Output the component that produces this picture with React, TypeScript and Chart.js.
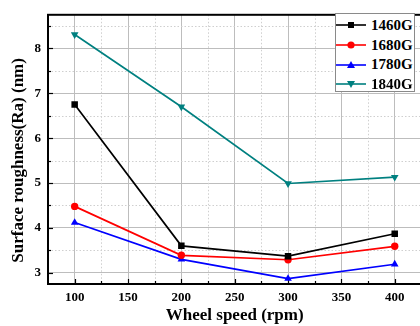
import React, { useEffect, useRef } from "react";
import { Chart, registerables } from "chart.js";

Chart.register(...registerables);

const wheelSpeeds = [100, 200, 300, 400];
const seriesNames = ["1460G", "1680G", "1780G", "1840G"];
const ra1460 = [6.75, 3.6, 3.37, 3.87];
const ra1680 = [4.48, 3.39, 3.29, 3.59];
const ra1780 = [4.12, 3.3, 2.87, 3.19];
const ra1840 = [8.31, 6.7, 4.99, 5.13];
const xTicks = [100, 150, 200, 250, 300, 350, 400];
const xMinorTicks = [125, 175, 225, 275, 325, 375];
const yTicks = [3, 4, 5, 6, 7, 8];
const yMinorTicks = [3.5, 4.5, 5.5, 6.5, 7.5, 8.5];
const yTitle = "Surface roughness(Ra) (nm)";
const xTitle = "Wheel speed (rpm)";

const colors = ["#000000", "#ff0000", "#0000ff", "#008080"];
const pointStyles: any[] = ["rect", "circle", "triangle", "triangle"];
const pointRotations = [0, 0, 0, 180];
const pointRadii = [4.6, 3.7, 4.4, 4.4];

const FONT = "'Liberation Serif', 'Times New Roman', serif";

const framePlugin = {
  id: "frameAndMinor",
  beforeDatasetsDraw(chart: any) {
    const { ctx, chartArea: a, scales } = chart;
    const xs = scales.x;
    const ys = scales.y;
    ctx.save();
    ctx.strokeStyle = "#cfcfcf";
    ctx.lineWidth = 1;
    ctx.setLineDash([1.5, 2]);
    for (const v of xMinorTicks) {
      const px = Math.round(xs.getPixelForValue(v)) + 0.5;
      ctx.beginPath();
      ctx.moveTo(px, a.top);
      ctx.lineTo(px, a.bottom);
      ctx.stroke();
    }
    for (const v of yMinorTicks) {
      const py = Math.round(ys.getPixelForValue(v)) + 0.5;
      ctx.beginPath();
      ctx.moveTo(a.left, py);
      ctx.lineTo(a.right, py);
      ctx.stroke();
    }
    ctx.setLineDash([]);
    ctx.strokeStyle = "#000";
    ctx.lineWidth = 1.2;
    const drawX = (v: number, len: number) => {
      const px = Math.round(xs.getPixelForValue(v)) + 0.5;
      ctx.beginPath();
      ctx.moveTo(px, a.bottom);
      ctx.lineTo(px, a.bottom - len);
      ctx.stroke();
    };
    const drawY = (v: number, len: number) => {
      const py = Math.round(ys.getPixelForValue(v)) + 0.5;
      ctx.beginPath();
      ctx.moveTo(a.left, py);
      ctx.lineTo(a.left + len, py);
      ctx.stroke();
    };
    xTicks.forEach((v) => drawX(v, 5));
    xMinorTicks.forEach((v) => drawX(v, 3));
    yTicks.forEach((v) => drawY(v, 5));
    yMinorTicks.forEach((v) => drawY(v, 3));
    ctx.restore();
  },
  afterDatasetsDraw(chart: any) {
    const { ctx, chartArea: a } = chart;
    ctx.save();
    ctx.strokeStyle = "#000";
    ctx.lineWidth = 2;
    ctx.strokeRect(a.left, a.top, a.right - a.left, a.bottom - a.top);
    // y-axis title
    ctx.translate(19, (a.top + a.bottom) / 2 + 11);
    ctx.rotate(-Math.PI / 2);
    ctx.fillStyle = "#000";
    ctx.font = `bold 17px ${FONT}`;
    ctx.textAlign = "center";
    ctx.textBaseline = "middle";
    ctx.fillText(yTitle, 0, 0);
    ctx.restore();
  },
};

function MarkerSvg({ i }: { i: number }) {
  const c = colors[i];
  let marker: any = null;
  if (i === 0) marker = <rect x={12} y={6} width={6} height={6} fill={c} />;
  else if (i === 1) marker = <circle cx={15} cy={9} r={3.6} fill={c} />;
  else if (i === 2) marker = <polygon points="15,5 19,12 11,12" fill={c} />;
  else marker = <polygon points="15,13 19,6 11,6" fill={c} />;
  return (
    <svg width={30} height={18} style={{ display: "block" }}>
      <line x1={0} y1={9} x2={30} y2={9} stroke={c} strokeWidth={1.6} />
      {marker}
    </svg>
  );
}

export default function App() {
  const ref = useRef<HTMLCanvasElement | null>(null);

  useEffect(() => {
    if (!ref.current) return;
    const allSeries = [ra1460, ra1680, ra1780, ra1840];
    const chart = new Chart(ref.current, {
      type: "line",
      data: {
        datasets: allSeries.map((s, i) => ({
          label: seriesNames[i],
          data: s.map((y, j) => ({ x: wheelSpeeds[j], y })),
          borderColor: colors[i],
          backgroundColor: colors[i],
          borderWidth: 1.7,
          pointStyle: pointStyles[i],
          rotation: pointRotations[i],
          pointRadius: pointRadii[i],
          pointHoverRadius: pointRadii[i],
          pointBorderWidth: 0,
          tension: 0,
        })),
      },
      plugins: [framePlugin],
      options: {
        responsive: false,
        animation: false,
        layout: { padding: { left: 0, top: 8, right: 2.5, bottom: 0 } },
        plugins: { legend: { display: false }, tooltip: { enabled: false } },
        scales: {
          x: {
            type: "linear",
            min: 75,
            max: 425,
            afterBuildTicks: (s: any) => {
              s.ticks = xTicks.map((v) => ({ value: v }));
            },
            afterFit: (s: any) => {
              s.height = 42;
            },
            grid: { color: "#bdbdbd", lineWidth: 1, drawTicks: false },
            border: { display: false },
            ticks: {
              padding: 6,
              color: "#000",
              font: { family: FONT, size: 13, weight: "bold" },
              maxRotation: 0,
            },
            title: {
              display: true,
              text: xTitle,
              color: "#000",
              font: { family: FONT, size: 17, weight: "bold" },
              padding: { top: 0, bottom: 0 },
            },
          },
          y: {
            type: "linear",
            min: 2.75,
            max: 8.75,
            afterBuildTicks: (s: any) => {
              s.ticks = yTicks.map((v) => ({ value: v }));
            },
            afterFit: (s: any) => {
              s.width = 48;
            },
            grid: { color: "#bdbdbd", lineWidth: 1, drawTicks: false },
            border: { display: false },
            ticks: {
              padding: 7,
              color: "#000",
              font: { family: FONT, size: 13, weight: "bold" },
            },
            title: { display: false },
          },
        },
      },
    } as any);
    return () => chart.destroy();
  }, []);

  return (
    <div
      style={{
        position: "fixed",
        left: 0,
        top: 0,
        width: 420,
        height: 326,
        overflow: "hidden",
        background: "#fff",
      }}
    >
      <canvas ref={ref} width={426} height={326} style={{ display: "block" }} />
      <div
        style={{
          position: "absolute",
          left: 335,
          top: 13,
          width: 80,
          height: 79,
          border: "1px solid #8a8a8a",
          background: "#fff",
          boxSizing: "border-box",
          paddingTop: 1.5,
        }}
      >
        {seriesNames.map((n, i) => (
          <div
            key={n}
            style={{
              display: "flex",
              alignItems: "center",
              height: 19.7,
              fontFamily: FONT,
              fontWeight: "bold",
              fontSize: 15,
              color: "#000",
              lineHeight: "19px",
            }}
          >
            <MarkerSvg i={i} />
            <span style={{ marginLeft: 5 }}>{n}</span>
          </div>
        ))}
      </div>
    </div>
  );
}
